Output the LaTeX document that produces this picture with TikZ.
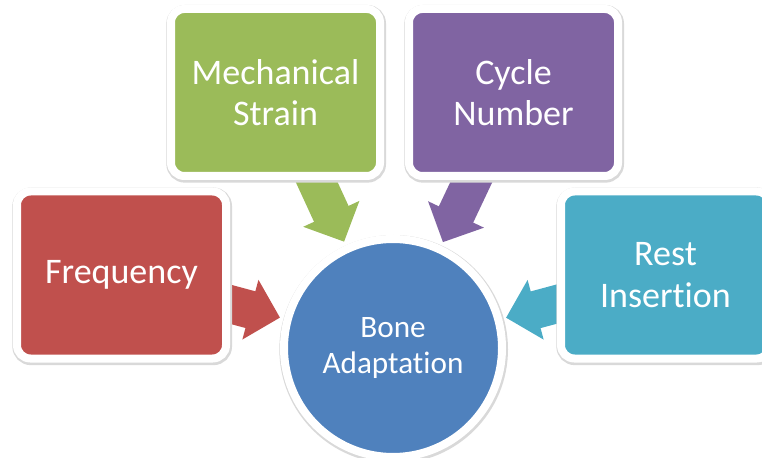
\documentclass[tikz,border=0pt]{standalone}
\usepackage{fontspec}
\setmainfont{Carlito}[Ligatures=NoCommon]
\usepackage{tikz}
\usetikzlibrary{arrows.meta,backgrounds}
\definecolor{vermelho}{RGB}{192,80,77}
\definecolor{verde}{RGB}{155,187,89}
\definecolor{roxo}{RGB}{128,100,162}
\definecolor{turquesa}{RGB}{75,172,198}
\definecolor{azul}{RGB}{79,129,189}
\tikzset{
  sombra/.style={preaction={draw=black!15,line width=8pt,
    transform canvas={shift={(0.5pt,-1pt)}}}},
  caixa/.style={rectangle,rounded corners=10pt,draw=white,line width=6pt,sombra,
    minimum width=156.75pt,minimum height=125.25pt,align=center,text=white,
    font=\fontsize{27}{31}\selectfont},
  circulo/.style={circle,draw=white,line width=6pt,sombra,minimum size=163.5pt,
    align=center,text=white,font=\fontsize{23.4}{27}\selectfont},
  seta/.style={-{Triangle[length=23pt,width=45pt]},line width=28.5pt,
    shorten <=-8pt,shorten >=3pt}
}

\begin{document}
\begin{tikzpicture}[x=0.75pt,y=0.75pt]
\useasboundingbox (0,0) rectangle (762,457);
\node[circulo,fill=azul] (osso) at (393,109) {Bone\\Adaptation};
\node[caixa,fill=vermelho] (freq) at (121.5,182) {Frequency};
\node[caixa,fill=verde] (deform) at (275.5,364.5) {Mechanical\\Strain};
\node[caixa,fill=roxo] (ciclos) at (513.5,364.5) {Cycle\\Number};
\node[caixa,fill=turquesa] (repouso) at (665.5,182) {Rest\\Insertion};
% setas por baixo das caixas
\begin{scope}[on background layer]
  \draw[seta,vermelho] (freq) -- (osso);
  \draw[seta,verde] (deform) -- (osso);
  \draw[seta,roxo] (ciclos) -- (osso);
  \draw[seta,turquesa] (repouso) -- (osso);
\end{scope}
\end{tikzpicture}
\end{document}
